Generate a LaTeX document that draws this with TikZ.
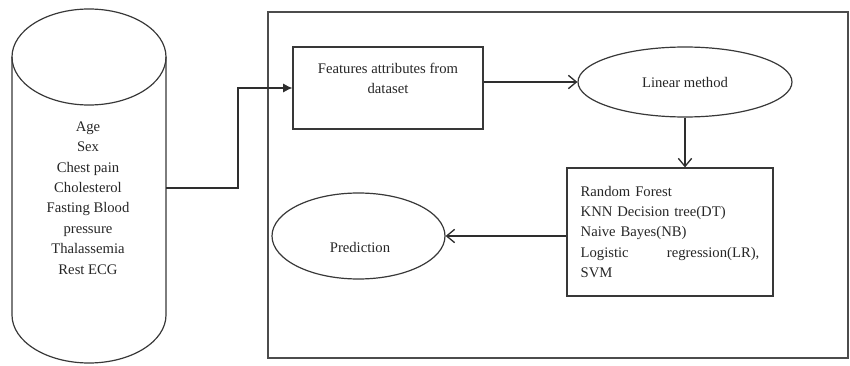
\documentclass[tikz,border=0pt]{standalone}
\usepackage{fontspec}
\setmainfont{Liberation Serif}
\usetikzlibrary{shapes.geometric,arrows.meta}
\begin{document}
\begin{tikzpicture}[x=0.75pt,y=0.75pt,
  every node/.style={font=\fontsize{11pt}{15.3pt}\selectfont, text=black!85},
  shapeline/.style={draw=black!78, line width=0.9pt},
  boxnode/.style={shapeline, rectangle, inner sep=0pt},
  ovalnode/.style={shapeline, ellipse, inner sep=0pt},
  conn/.style={draw=black!82, line width=1pt},
  openarrow/.style={conn, -{Straight Barb[length=6pt,width=10pt,line width=1pt]}},
  fillarrow/.style={conn, -{Latex[length=7pt,width=7pt]}},
  txt/.style={inner sep=0pt, align=center}
]
\useasboundingbox (0,0) rectangle (850,365);
% outer frame
\draw[draw=black!70, line width=1.2pt] (268,7) rectangle (848,353);
% cylinder
\draw[shapeline] (89,308) ellipse [x radius=77, y radius=48];
\draw[shapeline] (12,308) -- (12,50) arc[start angle=180, end angle=360, x radius=77, y radius=48] -- (166,308);
\node[txt] (attrs) at (88,167) {Age\\Sex\\Chest pain\\Cholesterol\\Fasting Blood\\pressure\\Thalassemia\\Rest ECG};
\coordinate (cylR) at (166,177);
% features box
\node[boxnode, minimum width=142.5pt, minimum height=61.5pt] (features) at (388,277) {};
\node[txt] (ftext) at (388,286.5) {Features attributes from\\dataset};
% linear method
\node[ovalnode, minimum width=160.5pt, minimum height=52.5pt] (linear) at (685,283) {Linear method};
% models box
\node[boxnode, minimum width=154.5pt, minimum height=96pt, text width=134pt, align=left] (models) at (670,133)
  {Random Forest\\KNN Decision tree(DT)\\Naive Bayes(NB)\\\makebox[134pt][l]{Logistic\hfill regression(LR),}\\SVM};
% prediction
\node[ovalnode, minimum width=129.75pt, minimum height=64.5pt] (pred) at (358.5,129) {};
\node[txt] (ptext) at (360,118) {Prediction};
% connectors
\draw[fillarrow] (cylR) -- ++(72,0) |- (features.west);
\draw[openarrow] (features.east |- linear.west) -- (linear.west);
\draw[openarrow] (linear.south) -- (linear.south |- models.north);
\draw[openarrow] (models.west |- pred.east) -- (pred.east);
\end{tikzpicture}
\end{document}
